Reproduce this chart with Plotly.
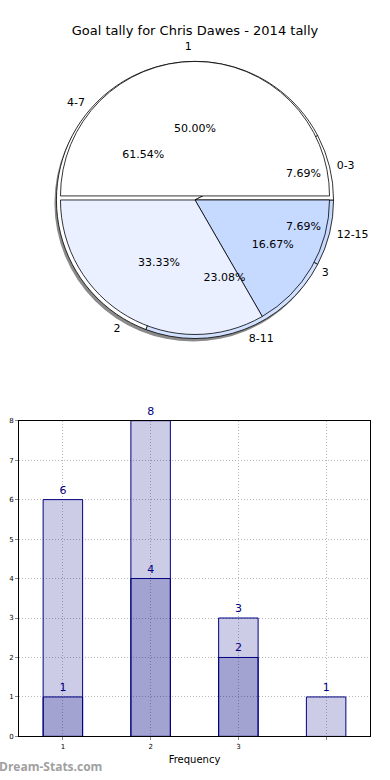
import plotly.graph_objects as go

# ---- data ----
title_text = "Goal tally for Chris Dawes - 2014 tally"
goal_labels = ["1", "2", "3"]
goal_values = [3, 2, 1]
bin_labels = ["0-3", "4-7", "8-11", "12-15"]
bin_values = [1, 8, 3, 1]

bar_x = [1, 2, 3, 4]
bar_totals = [6, 8, 3, 1]
bar_front_x = [1, 2, 3]
bar_front = [1, 4, 2]
x_tick_vals = [1, 2, 3, 4]
x_tick_text = ["1", "2", "3", ""]
y_tick_vals = [0, 1, 2, 3, 4, 5, 6, 7, 8]

W, H = 390, 780
FONT = "DejaVu Sans"

# pie geometry (pixels)
cx, cy, R = 195, 198, 140
L = 144  # radius of the (transparent) label rings


def dom(cx_, cy_, r_):
    return dict(x=[(cx_ - r_) / W, (cx_ + r_) / W],
                y=[1 - (cy_ + r_) / H, 1 - (cy_ - r_) / H])


goal_colors = ["#FFFFFF", "#EAF0FF", "#C6D9FF"]
bin_colors = ["#FFFFFF", "#FFFFFF", "#D2E1FF", "#C6D9FF"]
goal_pull = [0.03, 0, 0]
bin_pull = [0, 0, 0, 0]

# matplotlib draws counterclockwise from 3 o'clock: same as clockwise on reversed order
R_ = lambda a: list(a)[::-1]

fig = go.Figure()
line = dict(color="black", width=0.8)
clear = "rgba(0,0,0,0)"

common = dict(sort=False, direction="clockwise", rotation=90,
              hoverinfo="skip", showlegend=False)

# shadow
fig.add_trace(go.Pie(values=[1], labels=["s"], domain=dom(cx - 2, cy + 3, R),
                     marker=dict(colors=["#8a8a8a"], line=dict(width=0)),
                     textinfo="none", **common))
# fills
fig.add_trace(go.Pie(values=R_(bin_values), labels=R_(bin_labels), domain=dom(cx, cy, R),
                     marker=dict(colors=R_(bin_colors), line=line), pull=R_(bin_pull),
                     textinfo="none", **common))
fig.add_trace(go.Pie(values=R_(goal_values), labels=R_(goal_labels), domain=dom(cx, cy, R),
                     marker=dict(colors=R_(goal_colors), line=line), pull=R_(goal_pull),
                     textinfo="none", **common))
# percent texts
for vals, labs, pull in [(bin_values, bin_labels, bin_pull), (goal_values, goal_labels, goal_pull)]:
    fig.add_trace(go.Pie(values=R_(vals), labels=R_(labs), domain=dom(cx, cy, R),
                         marker=dict(colors=[clear] * len(vals), line=dict(width=0)),
                         pull=R_(pull), texttemplate="%{percent:.2%}", textposition="inside",
                         insidetextorientation="horizontal",
                         textfont=dict(family=FONT, size=11, color="black"), **common))
# outside labels
for vals, labs, pull in [(bin_values, bin_labels, bin_pull), (goal_values, goal_labels, goal_pull)]:
    fig.add_trace(go.Pie(values=R_(vals), labels=R_(labs), domain=dom(cx, cy, L * (1 + max(pull))),
                         marker=dict(colors=[clear] * len(vals), line=dict(width=0)),
                         pull=R_(pull), texttemplate="%{label}", textposition="outside",
                         textfont=dict(family=FONT, size=11, color="black"), **common))

# bars
bar_fill = "rgba(0,0,128,0.2)"
fig.add_trace(go.Bar(x=bar_x, y=bar_totals, width=0.45, marker=dict(color=bar_fill, line=dict(color="#000080", width=1)),
                     text=bar_totals, textposition="outside", cliponaxis=False,
                     textfont=dict(family=FONT, size=10, color="#000080"),
                     hoverinfo="skip", showlegend=False, xaxis="x", yaxis="y"))
fig.add_trace(go.Bar(x=bar_front_x, y=bar_front, width=0.45, marker=dict(color=bar_fill, line=dict(color="#000080", width=1)),
                     text=bar_front, textposition="outside", cliponaxis=False,
                     textfont=dict(family=FONT, size=10, color="#000080"),
                     hoverinfo="skip", showlegend=False, xaxis="x", yaxis="y"))

axis_common = dict(showline=True, linecolor="black", linewidth=1, mirror=True,
                   showgrid=True, gridcolor="#b8b8b8", griddash="1px,2px", gridwidth=1,
                   zeroline=False, ticks="outside", ticklen=3, tickcolor="#888",
                   tickfont=dict(family=FONT, size=7, color="black"))

fig.update_layout(
    width=W, height=H,
    margin=dict(l=0, r=0, t=0, b=0),
    paper_bgcolor="white", plot_bgcolor="white",
    barmode="overlay",
    title=dict(text=title_text, x=0.5, xanchor="center", y=1 - 30 / H, yanchor="middle",
               font=dict(family=FONT, size=13, color="black")),
    uniformtext=dict(minsize=11, mode="show"),
    xaxis=dict(domain=[19 / W, 370 / W], range=[0.5, 4.5], tickvals=x_tick_vals, ticktext=x_tick_text,
               title=dict(text="Frequency", font=dict(family=FONT, size=10, color="black"), standoff=6),
               anchor="y", **axis_common),
    yaxis=dict(domain=[1 - 740 / H, 1 - 421 / H], range=[0, 8], tickvals=y_tick_vals,
               anchor="x", **axis_common),
    annotations=[dict(text="<b>Dream-Stats.com</b>", x=0, y=1 - 770 / H, xref="paper", yref="paper",
                      xanchor="left", yanchor="middle", xshift=-3, showarrow=False,
                      font=dict(family="Open Sans", size=12, color="#a0a0a0"))],
)

fig.write_html("out.html", config={"displayModeBar": False},
               post_script="document.body.style.margin='0';")
